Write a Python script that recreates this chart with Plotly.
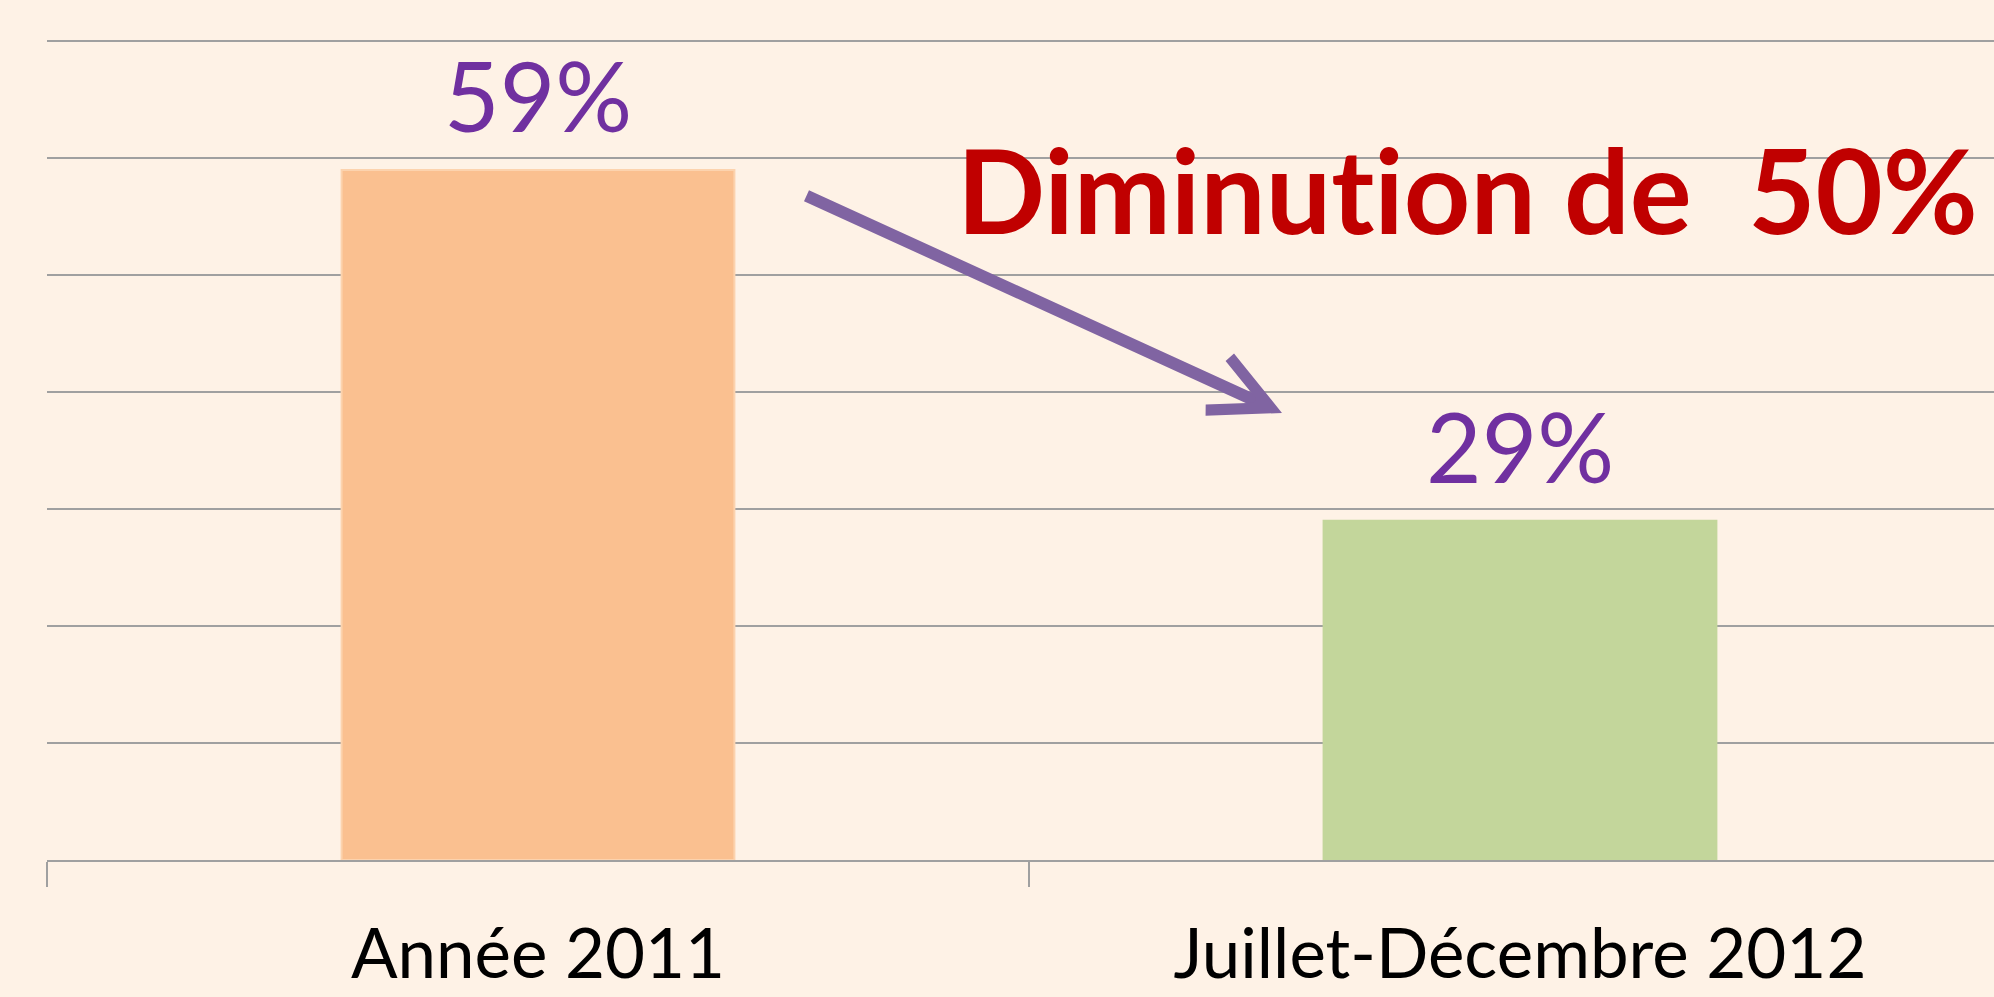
import plotly.graph_objects as go

categories = ["Année 2011", "Juillet-Décembre 2012"]
values = [59, 29]
value_labels = ["59%", "29%"]
bar_colors = ["#FAC090", "#C3D69B"]
headline = "Diminut\u200cion de\u00a0\u00a050%"

W, H = 1994, 997
Y_MAX = 72
PX_PER_UNIT = 819 / 70.0
MB = 137
MT = round(997 - MB - PX_PER_UNIT * Y_MAX)
ML, MR = 47, 0
PLOT_W = W - ML - MR
PLOT_H = H - MT - MB

fig = go.Figure()
fig.add_trace(go.Bar(
    x=categories, y=values, width=0.4,
    marker=dict(color=bar_colors, line=dict(color=["#FCD3AE", "#C3D69B"], width=2)),
    hoverinfo="skip", showlegend=False,
))

for c, v, t in zip(categories, values, value_labels):
    fig.add_annotation(x=c, y=v, text=t, showarrow=False, xanchor="center", yanchor="bottom",
                       yshift=16, font=dict(family="Lato", size=96, color="#7030A0"))

fig.add_annotation(xref="paper", yref="paper", x=(1980 - ML) / PLOT_W, y=(H - MB - 118) / PLOT_H,
                   xanchor="right", yanchor="top", text=headline, showarrow=False,
                   font=dict(family="Lato", size=116, color="#C00000", weight="bold"))

fig.add_annotation(xref="paper", yref="paper", x=(1282 - ML) / PLOT_W, y=(H - MB - 413) / PLOT_H,
                   ax=805 - 1282, ay=195 - 413, axref="pixel", ayref="pixel",
                   text="", showarrow=True, arrowhead=5, arrowsize=0.95, arrowwidth=12,
                   arrowcolor="#8064A2", standoff=0)

fig.update_layout(
    width=W, height=H,
    margin=dict(l=ML, r=MR, t=MT, b=MB, pad=0, autoexpand=False),
    paper_bgcolor="#FEF2E6", plot_bgcolor="#FEF2E6",
    xaxis=dict(
        type="category", range=[-0.5, -0.5 + PLOT_W / 982.0], automargin=False,
        tickson="boundaries", ticks="outside", ticklen=25, tickwidth=2, tickcolor="#A0A0A0",
        showline=True, linecolor="#A0A0A0", linewidth=2, showgrid=False,
        tickfont=dict(family="Lato", size=69, color="#000000"),
        ticklabelstandoff=33,
    ),
    yaxis=dict(
        range=[0, Y_MAX], tickvals=[10, 20, 30, 40, 50, 60, 70], showgrid=True,
        gridcolor="#A0A0A0", gridwidth=2, automargin=False,
        showticklabels=False, zeroline=False, showline=False, ticks="",
    ),
)

fig.write_html("out.html", config={"displayModeBar": False},
               post_script="document.body.style.margin='0';")
